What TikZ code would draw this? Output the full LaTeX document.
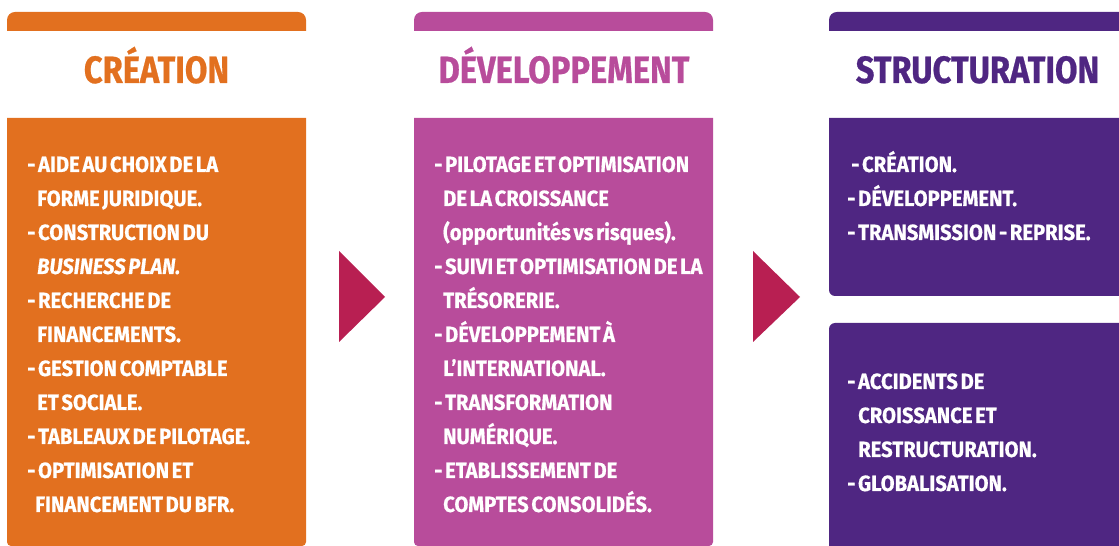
\documentclass[tikz,border=0pt]{standalone}
\usepackage{fontspec}
\newfontfamily\cf{Fira Sans}[FakeStretch=0.92,FakeBold=0.6]
\newfontfamily\hf{Fira Sans}[FakeStretch=0.86,FakeBold=0.6]
\definecolor{corange}{HTML}{E2701F}
\definecolor{cmagenta}{HTML}{B84C9B}
\definecolor{cpurple}{HTML}{4F2682}
\definecolor{carrow}{HTML}{B81F52}
\newcommand\tightsp{\spaceskip=0.55\fontdimen2\font}
\tikzset{
  head/.style={anchor=base, inner sep=0pt, font=\hf\bfseries\fontsize{38}{42}\selectfont},
  item/.style={anchor=base west, inner sep=0pt, text=white, font=\cf\bfseries\fontsize{22}{24}\selectfont\tightsp},
}
\begin{document}
\begin{tikzpicture}[x=1pt,y=1pt]
\useasboundingbox (0,0) rectangle (1119,546);
% orange column
\fill[corange] (7,515) -- (7,526) arc[start angle=180,end angle=90,radius=8] -- (298,534) arc[start angle=90,end angle=0,radius=8] -- (306,515) -- cycle;
\fill[corange] (7,428) -- (7,4) arc[start angle=180,end angle=270,radius=4] -- (302,0) arc[start angle=270,end angle=360,radius=4] -- (306,428) -- cycle;
% magenta column
\fill[cmagenta] (414,515) -- (414,526) arc[start angle=180,end angle=90,radius=8] -- (705,534) arc[start angle=90,end angle=0,radius=8] -- (713,515) -- cycle;
\fill[cmagenta] (414,428) -- (414,4) arc[start angle=180,end angle=270,radius=4] -- (709,0) arc[start angle=270,end angle=360,radius=4] -- (713,428) -- cycle;
% purple column
\fill[cpurple] (829,515) -- (829,526) arc[start angle=180,end angle=90,radius=8] -- (1119,534) -- (1119,515) -- cycle;
\fill[cpurple] (829,428) -- (829,256) arc[start angle=180,end angle=270,radius=6] -- (1119,250) -- (1119,428) -- cycle;
\fill[cpurple] (829,0) -- (829,217) arc[start angle=180,end angle=90,radius=6] -- (1119,223) -- (1119,0) -- cycle;
% arrows
\fill[carrow] (339,295) -- (385,249) -- (339,204) -- cycle;
\fill[carrow] (753,295) -- (800,249) -- (753,204) -- cycle;
% headings
\node[head, text=corange] (h1) at (156.5,463) {CRÉATION};
\node[head, text=cmagenta] (h2) at (564,463) {DÉVELOPPEMENT};
\node[head, text=cpurple] (h3) at (977.5,463) {STRUCTURATION};
% orange items
\foreach \x/\t [count=\i] in {27/{- AIDE AU CHOIX DE LA},37/{FORME JURIDIQUE.},27/{- CONSTRUCTION DU},37/{\itshape BUSINESS PLAN.},27/{- RECHERCHE DE},37/{FINANCEMENTS.},27/{- GESTION COMPTABLE},37/{ET SOCIALE.},27/{- TABLEAUX DE PILOTAGE.},27/{- OPTIMISATION ET},35/{FINANCEMENT DU BFR.}}
  \node[item] (o\i) at (\x,{374-34*(\i-1)}) {\t};
% magenta items
\foreach \x/\t [count=\i] in {434/{- PILOTAGE ET OPTIMISATION},443/{DE LA CROISSANCE},443/{(opportunités vs risques).},434/{- SUIVI ET OPTIMISATION DE LA},443/{TRÉSORERIE.},434/{- DÉVELOPPEMENT À},443/{L’INTERNATIONAL.},434/{- TRANSFORMATION},443/{NUMÉRIQUE.},434/{- ETABLISSEMENT DE},443/{COMPTES CONSOLIDÉS.}}
  \node[item] (m\i) at (\x,{374-34*(\i-1)}) {\t};
% purple items
\foreach \x/\t [count=\i] in {851/{- CRÉATION.},847/{- DÉVELOPPEMENT.},847/{- TRANSMISSION - REPRISE.}}
  \node[item] (p\i) at (\x,{374-34*(\i-1)}) {\t};
\foreach \x/\t [count=\i] in {847/{- ACCIDENTS DE},858/{CROISSANCE ET},858/{RESTRUCTURATION.},847/{- GLOBALISATION.}}
  \node[item] (q\i) at (\x,{157-34*(\i-1)}) {\t};
\end{tikzpicture}
\end{document}
